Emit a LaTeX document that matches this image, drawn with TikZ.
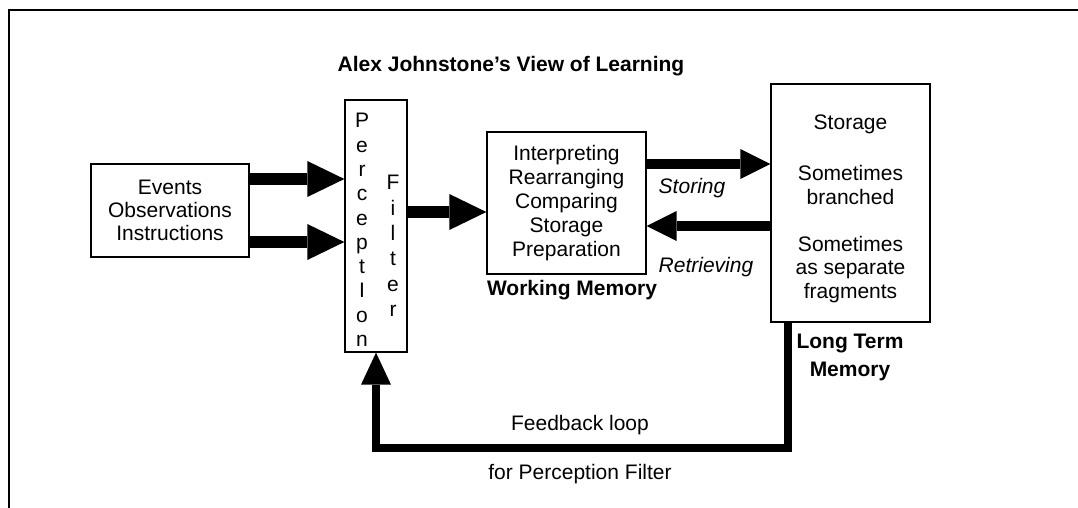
\documentclass[tikz,border=0pt]{standalone}
\usepackage{fontspec}
\setmainfont{Liberation Sans}
\usetikzlibrary{arrows.meta}
\begin{document}
\begin{tikzpicture}[x=1pt,y=-1pt,
  every node/.style={font=\fontsize{21}{23.5}\selectfont, inner sep=0pt},
  box/.style={draw, line width=1.3pt, align=center},
  bigarrow/.style={line width=12pt, -{Triangle[length=37pt,width=36pt,line width=0pt]}},
  midarrow/.style={line width=9.5pt, -{Triangle[length=30pt,width=30pt,line width=0pt]}},
  fbarrow/.style={line width=8.5pt, line join=miter, -{Triangle[length=32pt,width=30pt,line width=0pt]}},
  lbl/.style={anchor=base},
  boldtxt/.style={font=\fontsize{21}{28}\selectfont\bfseries},
  itxt/.style={font=\fontsize{21}{23.5}\selectfont\itshape},
]
\clip (0,0) rectangle (1078,508);
\fill[white] (0,0) rectangle (1078,508);
\draw[line width=2pt] (9,520) -- (9,10) -- (1090,10);

\node[lbl, boldtxt] (title) at (511,72) {Alex Johnstone’s View of Learning};

\node[box, minimum width=158pt, minimum height=93pt, font=\fontsize{21}{23}\selectfont] (ev) at (170,210.5) {Events\\Observations\\Instructions};

\node[box, minimum width=62pt, minimum height=252pt] (pf) at (376,226) {};
\node[align=center, font=\fontsize{21}{24.3}\selectfont] (pt1) at (362,230) {P\\e\\r\\c\\e\\p\\t\\I\\o\\n};
\node[align=center, font=\fontsize{21}{25.3}\selectfont] (pt2) at (393,246) {F\\i\\l\\t\\e\\r};

\node[box, minimum width=159pt, minimum height=142pt, font=\fontsize{21}{24.2}\selectfont] (wm) at (566.5,203) {Interpreting\\Rearranging\\Comparing\\Storage\\Preparation};

\node[box, minimum width=159pt, minimum height=238pt] (st) at (850.5,203) {};
\node[align=center, font=\fontsize{21}{23.8}\selectfont] (sttxt) at (850.5,209) {Storage\\[27pt]Sometimes\\branched\\[23pt]Sometimes\\as separate\\fragments};

\node[lbl, itxt] (sto) at (692,193) {Storing};
\node[lbl, itxt] (ret) at (706,272) {Retrieving};
\node[lbl, boldtxt] (wml) at (572,295) {Working Memory};
\node[align=center, boldtxt] (ltm) at (850,357.7) {Long Term\\Memory};
\node[lbl] (fb1) at (580,430) {Feedback loop};
\node[lbl] (fb2) at (580,479) {for Perception Filter};

\draw[bigarrow] (ev.east |- 0,179) -- (pf.west |- 0,179);
\draw[bigarrow] (ev.east |- 0,242) -- (pf.west |- 0,242);
\draw[bigarrow] (pf.east |- 0,212) -- (wm.west |- 0,212);
\draw[midarrow] (wm.east |- 0,164) -- (st.west |- 0,164);
\draw[midarrow] (st.west |- 0,226) -- (wm.east |- 0,226);
\draw[fbarrow] (st.south -| 788,0) |- (pf.south |- 0,448) -- (pf.south);
\end{tikzpicture}
\end{document}
